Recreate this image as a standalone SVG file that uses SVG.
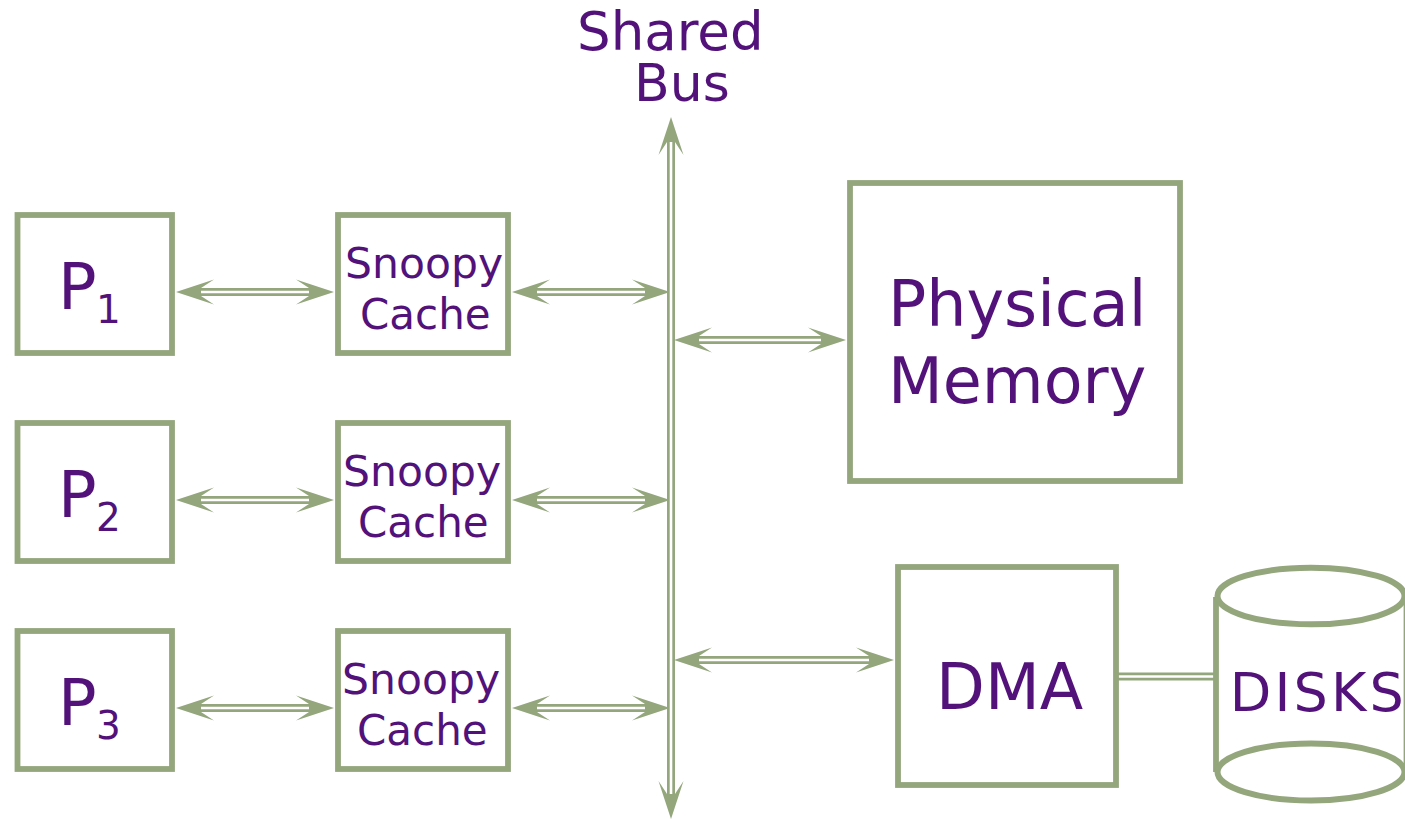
<svg xmlns="http://www.w3.org/2000/svg" width="1405" height="819" viewBox="0 0 1405 819">
<defs>
<style>
.box{fill:#fff;stroke:#93a67c;stroke-width:5.8}
.o{stroke:#93a67c;stroke-width:8;fill:none}
.i{stroke:#fff;stroke-width:2.6;fill:none}
.h{fill:#93a67c}
.d{fill:#fff;stroke:#93a67c;stroke-width:6}
text{font-family:"DejaVu Sans",Verdana,sans-serif;fill:#52127a}
.s{font-size:42.5px}
.c{font-size:42px}
.p{font-size:64px}
.m{font-size:63.5px}
.sub{font-size:39px}
</style>
<path id="hl" class="h" d="M0 0L38 -12.5L25 -4V4L38 12.5Z"/>
</defs>
<rect width="1405" height="819" fill="#fff"/>
<g id="connectors">
<g id="c-p1"><path class="o" d="M195 292H315"/><path class="i" d="M199 292H311"/><use href="#hl" x="176" y="292"/><use href="#hl" transform="translate(334 292) scale(-1 1)"/></g>
<g id="c-s1"><path class="o" d="M531 292H652"/><path class="i" d="M535 292H648"/><use href="#hl" x="512" y="292"/><use href="#hl" transform="translate(670 292) scale(-1 1)"/></g>
<g id="c-p2"><path class="o" d="M195 500H315"/><path class="i" d="M199 500H311"/><use href="#hl" x="176" y="500"/><use href="#hl" transform="translate(334 500) scale(-1 1)"/></g>
<g id="c-s2"><path class="o" d="M531 500H652"/><path class="i" d="M535 500H648"/><use href="#hl" x="512" y="500"/><use href="#hl" transform="translate(670 500) scale(-1 1)"/></g>
<g id="c-p3"><path class="o" d="M195 708H315"/><path class="i" d="M199 708H311"/><use href="#hl" x="176" y="708"/><use href="#hl" transform="translate(334 708) scale(-1 1)"/></g>
<g id="c-s3"><path class="o" d="M531 708H652"/><path class="i" d="M535 708H648"/><use href="#hl" x="512" y="708"/><use href="#hl" transform="translate(670 708) scale(-1 1)"/></g>
<g id="c-mem"><path class="o" d="M693 340H828"/><path class="i" d="M697 340H824"/><use href="#hl" x="674" y="340"/><use href="#hl" transform="translate(846 340) scale(-1 1)"/></g>
<g id="c-dma"><path class="o" d="M693 660H875"/><path class="i" d="M697 660H871"/><use href="#hl" x="674" y="660"/><use href="#hl" transform="translate(894 660) scale(-1 1)"/></g>
<g id="c-disk"><path class="o" d="M1118 676.5H1214"/><path class="i" d="M1118 676.5H1214"/></g>
<g id="bus"><path class="o" d="M671 136V800"/><path class="i" d="M671 140V796"/><use href="#hl" transform="translate(671 117) rotate(90)"/><use href="#hl" transform="translate(671 819) rotate(-90)"/></g>
</g>
<g id="p1"><rect class="box" x="17.5" y="215" width="154.5" height="138"/><text class="p" x="58" y="309">P</text><text class="sub" x="96" y="323">1</text></g>
<g id="p2"><rect class="box" x="17.5" y="423" width="154.5" height="138"/><text class="p" x="58" y="517">P</text><text class="sub" x="96" y="531">2</text></g>
<g id="p3"><rect class="box" x="17.5" y="631" width="154.5" height="138"/><text class="p" x="58" y="725">P</text><text class="sub" x="96" y="739">3</text></g>
<g id="cache1"><rect class="box" x="338" y="215" width="170" height="138"/><text class="s" x="345" y="278">Snoopy</text><text class="c" x="360" y="329">Cache</text></g>
<g id="cache2"><rect class="box" x="338" y="423" width="170" height="138"/><text class="s" x="343" y="486">Snoopy</text><text class="c" x="358" y="537">Cache</text></g>
<g id="cache3"><rect class="box" x="338" y="631" width="170" height="138"/><text class="s" x="342" y="694">Snoopy</text><text class="c" x="357" y="745">Cache</text></g>
<g id="memory"><rect class="box" x="850" y="183" width="330" height="298"/><text class="m" x="888" y="325.5">Physical</text><text class="m" x="888" y="403">Memory</text></g>
<g id="dma"><rect class="box" x="898" y="567" width="218" height="218"/><text class="m" x="936" y="709">DMA</text></g>
<g id="disks"><path d="M1216 597V772" fill="none" stroke="#93a67c" stroke-width="5.8"/><path d="M1404.3 597V772" fill="none" stroke="#93a67c" stroke-width="1.4"/><ellipse class="d" cx="1311" cy="596" rx="93.5" ry="28.3"/><ellipse class="d" cx="1311" cy="772" rx="93.5" ry="28.5"/><text style="font-size:54px" x="1229.7" y="711" textLength="174">DISKS</text></g>
<g id="label"><text style="font-size:53px" x="577" y="50">Shared</text><text style="font-size:52px" x="634" y="101">Bus</text></g>
</svg>
